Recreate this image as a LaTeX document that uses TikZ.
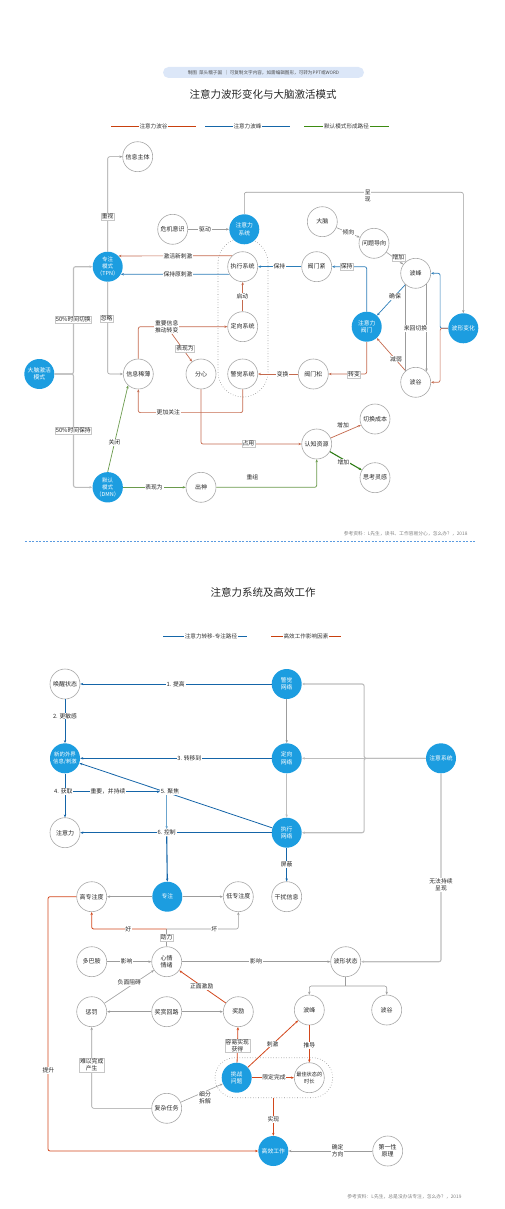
\documentclass[tikz,border=0pt]{standalone}
\usepackage{fontspec}
\setmainfont{Noto Sans CJK SC}
\usetikzlibrary{arrows.meta,calc}
\definecolor{nb}{HTML}{1C9DE0}
\definecolor{cgray}{HTML}{A8A8A8}
\definecolor{lgray}{HTML}{9C9C9C}
\definecolor{lgray2}{HTML}{BDBDBD}
\definecolor{rd}{HTML}{C46A4E}
\definecolor{rdb}{HTML}{D2471C}
\definecolor{bl}{HTML}{2C7DB8}
\definecolor{bld}{HTML}{1565A8}
\definecolor{gn}{HTML}{6A9A4C}
\definecolor{gnd}{HTML}{2F7D17}
\definecolor{pill}{HTML}{DCE7F8}
\definecolor{sepb}{HTML}{5B9BE0}
\definecolor{lgr}{HTML}{C8400E}
\definecolor{lgb}{HTML}{1566A8}
\definecolor{lgg}{HTML}{3D8B12}
\begin{document}
\begin{tikzpicture}[x=1pt,y=-1pt,
  cn/.style={circle,draw=cgray,line width=0.6pt,fill=white,minimum size=30pt,inner sep=0pt,font=\fontsize{6}{7.2}\selectfont,align=center,text=black!85},
  bn/.style={circle,fill=nb,minimum size=30pt,inner sep=0pt,font=\fontsize{5.8}{7.4}\selectfont,align=center,text=white},
  lb/.style={fill=white,inner sep=0.8pt,font=\fontsize{5.8}{6.8}\selectfont,align=center,text=black!85},
  lbb/.style={lb,draw=black!22,line width=0.3pt},
  ar/.style={-{Stealth[length=3pt,width=2.4pt]}},
  rc/.style={rounded corners=2pt},
  gl/.style={draw=lgray,line width=0.6pt},
  gl2/.style={draw=lgray2,line width=1.1pt},
  rdl/.style={draw=rd,line width=0.7pt},
  rdl2/.style={draw=rdb,line width=0.8pt},
  bll/.style={draw=bl,line width=0.7pt},
  bll2/.style={draw=bld,line width=0.8pt},
  gnl/.style={draw=gn,line width=0.7pt},
  gnl2/.style={draw=gnd,line width=1.1pt},
  capsule/.style={draw=black!45,dotted,line width=0.6pt},
  ttl/.style={font=\fontsize{10.5}{12}\selectfont,text=black!85},
  lgt/.style={font=\fontsize{5.6}{6}\selectfont,text=black!80,inner sep=0.5pt},
  reft/.style={font=\fontsize{4.8}{5.5}\selectfont,text=black!50,anchor=east}
]
\useasboundingbox (0,0) rectangle (504,1209);

% ---------- header ----------
\node[fill=pill,rounded corners=5.5pt,minimum width=201pt,minimum height=11pt,inner sep=0pt,font=\fontsize{4.6}{5}\selectfont,text=black!70] (pill) at (263.5,72.5) {制图\ \ 菜头糯子国\ \ ｜\ 可复制文字内容，如需编辑图形，可转为PPT或WORD};
\node[ttl] (t1) at (263,94) {注意力波形变化与大脑激活模式};

\node[lgt] (lg1) at (153.5,126) {注意力波谷};
\coordinate (lg1a) at (111,126); \coordinate (lg1b) at (196,126);
\draw[draw=lgr,line width=0.8pt] (lg1a) -- (lg1.west) (lg1.east) -- (lg1b);
\node[lgt] (lg2) at (247.5,126) {注意力波峰};
\coordinate (lg2a) at (205,126); \coordinate (lg2b) at (290,126);
\draw[draw=lgb,line width=0.8pt] (lg2a) -- (lg2.west) (lg2.east) -- (lg2b);
\node[lgt] (lg3) at (346.5,126) {默认模式形成路径};
\coordinate (lg3a) at (304,126); \coordinate (lg3b) at (389,126);
\draw[draw=lgg,line width=0.8pt] (lg3a) -- (lg3.west) (lg3.east) -- (lg3b);

% ---------- diagram 1 capsule ----------
\draw[capsule,rounded corners=25pt] (218,238) rectangle (268,397);

% ---------- diagram 1 nodes ----------
\node[cn] (info) at (137.7,156.7) {信息主体};
\node[cn] (crisis) at (172.7,229.3) {危机意识};
\node[bn] (attsys) at (244.3,229.3) {注意力\\系统};
\node[bn,font=\fontsize{5.5}{7.2}\selectfont] (tpn) at (107.7,266.7) {专注\\模式\\（TPN）};
\node[cn] (exec) at (242.7,266.7) {执行系统};
\node[cn] (brain) at (322.3,221.7) {大脑};
\node[cn] (problem) at (374,243.3) {问题导向};
\node[cn] (peak) at (415.7,273.3) {波峰};
\node[cn] (vtight) at (316.7,266.7) {阀门紧};
\node[bn] (gate) at (366.7,326.7) {注意力\\阀门};
\node[cn] (trough) at (415.7,382.3) {波谷};
\node[bn] (wave) at (463.3,328.3) {波形变化};
\node[cn] (vloose) at (313.3,374) {阀门松};
\node[cn] (alert) at (242.7,374) {警觉系统};
\node[cn] (orient) at (242.7,326.7) {定向系统};
\node[bn] (activ) at (39.3,374) {大脑激活\\模式};
\node[cn] (scarce) at (138.3,374) {信息稀薄};
\node[cn] (dist) at (201,374) {分心};
\node[cn] (cog) at (316.7,444) {认知资源};
\node[cn] (swcost) at (375,419) {切换成本};
\node[cn] (insp) at (375,477.7) {思考灵感};
\node[bn,font=\fontsize{5.5}{7.2}\selectfont] (dmn) at (107.7,487.3) {默认\\模式\\（DMN）};
\node[cn] (trance) at (201,487.3) {出神};

% ---------- diagram 1 edges ----------
\draw[gl,ar,rc] (tpn.north) |- (info.west);
\node[lbb] at (107.7,216.7) {重视};
\draw[gl,ar] (crisis) -- (attsys);
\node[lb] at (205,229.3) {驱动};
\coordinate (top1) at (300,192.3);
\draw[gl,ar,rc] (attsys.north) |- (top1) -| (wave.north);
\node[lb] at (367.7,196) {呈\\现};

\draw[rdl,ar] (exec.134.5) -- (tpn.45.5);
\node[lb] at (178,256) {激活新刺激};
\draw[bll,ar] (exec.210.4) -- (tpn.-30.4);
\node[lb] at (178,274.3) {保持原刺激};

\draw[bll,ar] (vtight) -- (exec);
\node[lb] at (279.3,266.7) {保持};
\draw[bll,ar,rc] (gate.north) |- (vtight.east);
\node[lbb] at (346.7,266.7) {保持};
\draw[gl,ar] (brain) -- (problem);
\node[lb] at (348.3,232.7) {倾向};
\draw[gl,ar] (problem) -- (peak);
\node[lbb] at (398.3,257.7) {增加};
\draw[bll,ar] (peak) -- (gate);
\node[lb] at (395,296.7) {确保};
\draw[rdl,ar] (trough) -- (gate);
\node[lb] at (396,359) {减弱};
\draw[gl] (peak.-134.4) -- (trough.134.4);
\draw[gl,ar] (peak.-45.6) -- (trough.45.6);
\node[lb] at (415.5,328.3) {来回切换};
\draw[bll,ar,rc] (wave.west) -- ++(-8,0) |- (peak.east);
\draw[rdl,ar,rc] (wave.west) -- ++(-8,0) |- (trough.east);
\draw[rdl,ar,rc] (gate.south) |- (vloose.east);
\node[lbb] at (354,374.3) {转变};
\draw[rdl,ar] (vloose) -- (alert);
\node[lb] at (282.7,374) {变换};
\draw[rdl,ar] (orient) -- (exec);
\node[lb] at (242.3,296.7) {启动};

\draw[gl,ar,rc] (tpn.south) |- (scarce.west);
\node[lbb] at (106.7,318.3) {忽略};
\draw[rdl,ar,rc] (scarce.north) |- (orient.west);
\node[lb] (imp) at (166.7,326.7) {重要信息\\推动转变};
\draw[rdl,ar] (imp) -- (dist);
\node[lbb] at (185,348.3) {表现为};
\draw[rdl,ar,rc] (alert.south) -- ++(0,23.3) -| (scarce.south);
\node[lb] at (168.3,412.3) {更加关注};
\draw[rdl,ar,rc] (dist.south) |- (cog.west);
\node[lbb] at (248.3,443.3) {占用};
\draw[rdl,ar] (cog) -- (swcost);
\node[lb] at (343,425.7) {增加};
\draw[gnl2,ar] (cog) -- (insp);
\node[lb] at (343.3,462.3) {增加};
\draw[gnl,ar] (dmn) -- (trance);
\node[lb] at (154,487.3) {表现为};
\draw[gnl,ar,rc] (trance.east) -| (cog.south);
\node[lb,fill=none] at (252.3,477.3) {重组};
\draw[gnl,ar] (dmn.north) -- (scarce.228);
\node[lb] at (114.3,442.7) {关闭};

\draw[gl2,ar,rc] (activ.east) -- ++(19,0) |- (tpn.west);
\draw[gl2,ar,rc] (activ.east) -- ++(19,0) |- (dmn.west);
\node[lbb] at (73.3,319.3) {50\%时间切换};
\node[lbb] at (73.3,430.7) {50\%时间保持};

\node[reft] (ref1) at (471,534) {参考资料：L先生，读书、工作容易分心，怎么办？，2018};
\coordinate (sepa) at (25,541.3); \coordinate (sepb) at (476,541.3);
\draw[draw=sepb,dashed,line width=0.6pt,dash pattern=on 2pt off 1.5pt] (sepa) -- (sepb);

% ---------- diagram 2 header ----------
\node[ttl] (t2) at (263,592.3) {注意力系统及高效工作};
\node[lgt] (lg4) at (211,636.7) {注意力转移-专注路径};
\coordinate (lg4a) at (163,636.7); \coordinate (lg4b) at (246.7,636.7);
\draw[draw=lgb,line width=0.8pt] (lg4a) -- (lg4.west) (lg4.east) -- (lg4b);
\node[lgt] (lg5) at (306,636.7) {高效工作影响因素};
\coordinate (lg5a) at (271,636.7); \coordinate (lg5b) at (341,636.7);
\draw[draw=lgr,line width=0.8pt] (lg5a) -- (lg5.west) (lg5.east) -- (lg5b);

% ---------- diagram 2 capsule ----------
\draw[capsule,rounded corners=20pt] (215,1057.7) rectangle (332.7,1097.7);

% ---------- diagram 2 nodes ----------
\node[cn] (wake) at (65,684) {唤醒状态};
\node[bn] (alertnet) at (286.7,684) {警觉\\网络};
\node[bn,font=\fontsize{5.4}{7}\selectfont] (newinfo) at (65,758.3) {新的外界\\信息/刺激};
\node[bn] (orientnet) at (286.7,758.3) {定向\\网络};
\node[bn] (execnet) at (286.7,832.7) {执行\\网络};
\node[cn] (attn) at (65,832.7) {注意力};
\node[bn] (attsys2) at (441,758.3) {注意系统};
\node[cn] (interf) at (286.7,896.7) {干扰信息};
\node[cn] (highf) at (91.7,896.7) {高专注度};
\node[bn] (focus) at (167.3,896.7) {专注};
\node[cn] (lowf) at (238.3,896.7) {低专注度};
\node[cn] (mood) at (166.7,961.7) {心情\\情绪};
\node[cn] (dopa) at (91.7,961.7) {多巴胺};
\node[cn] (wstate) at (345.7,961.7) {波形状态};
\node[cn] (punish) at (91.7,1011.7) {惩罚};
\node[cn] (rcirc) at (166.7,1011.7) {奖赏回路};
\node[cn] (reward) at (238.3,1011.7) {奖励};
\node[cn] (peak2) at (309.3,1010) {波峰};
\node[cn] (trough2) at (386.7,1010) {波谷};
\node[bn] (chall) at (236.7,1077.7) {挑战\\问题};
\node[cn,font=\fontsize{5.2}{6.8}\selectfont] (best) at (309.3,1077.7) {最佳状态的\\时长};
\node[cn] (complex) at (166.7,1108.3) {复杂任务};
\node[bn] (eff) at (273.3,1151) {高效工作};
\node[cn] (first) at (387.7,1151) {第一性\\原理};

% ---------- diagram 2 edges ----------
\draw[bll2,ar] (alertnet) -- (wake);
\node[lb] at (175.7,684) {1. 提高};
\draw[bll2,ar] (wake) -- (newinfo);
\node[lb] at (65,716) {2. 更敏感};
\draw[bll2,ar] (orientnet) -- (newinfo);
\node[lb] at (189.3,758.3) {3. 转移到};
\draw[bll2,ar] (execnet) -- (newinfo);
\draw[bll2,ar] (newinfo) -- (attn);
\node[lb] (l4) at (63.3,791.7) {4. 获取};
\node[lb] (l5) at (170,791.7) {5. 聚焦};
\draw[bll2,ar] (l4.east) -- (l5.west) node[lb,pos=0.4] {重要，并持续};
\draw[bll2,ar] (execnet) -- (attn);
\node[lb] (l6) at (166.7,832.7) {6. 控制};
\draw[draw=bl!70,line width=1.1pt,ar] (l5.south -| l6.north) -- (l6.north);
\draw[draw=bld,line width=1.1pt,ar] (l6.south) -- (focus.north);

\draw[gl2,ar] (attsys2.west) -- (orientnet.east);
\draw[gl2,ar,rc] (attsys2.west) -- ++(-61.7,0) |- (alertnet.east);
\draw[gl2,ar,rc] (attsys2.west) -- ++(-61.7,0) |- (execnet.east);
\draw[gl,ar] (alertnet) -- (orientnet);
\draw[gl2,ar] (orientnet) -- (execnet);
\draw[bll2,ar] (execnet) -- (interf);
\node[lb] at (286.7,864.3) {屏蔽};
\draw[gl2,ar,rc] (attsys2.south) |- (wstate.east);
\node[lb] at (441,885) {无法持续\\呈现};

\draw[gl,ar] (focus) -- (highf);
\draw[gl,ar] (focus) -- (lowf);
\coordinate (split) at (166.7,929);
\draw[gl] (mood.north) -- (split);
\draw[rdl2,ar,rc] (split) -| (highf.south);
\draw[gl,ar,rc] (split) -| (lowf.south);
\node[lb] at (128.3,929) {好};
\node[lb] at (214.3,929) {坏};
\node[lbb] at (166.7,937.6) {助力};
\draw[gl,ar] (dopa) -- (mood);
\node[lb] at (126.7,961.7) {影响};
\draw[gl,ar] (mood) -- (wstate);
\node[lb] at (256,961.7) {影响};
\draw[gl,ar] (rcirc) -- (punish);
\draw[gl,ar] (rcirc) -- (reward);
\draw[gl,ar] (punish) -- (mood);
\node[lb] at (129.3,982.7) {负面阻碍};
\draw[rdl2,ar] (reward) -- (mood);
\node[lb] at (201.7,986) {正面激励};
\draw[rdl2,ar,rc] (highf.west) -- ++(-28.4,0) |- (eff.west);
\node[lb] at (48.3,1070.7) {提升};

\coordinate (wsplit) at (345.7,986);
\draw[gl] (wstate.south) -- (wsplit);
\draw[gl,ar,rc] (wsplit) -| (peak2.north);
\draw[gl,ar,rc] (wsplit) -| (trough2.north);

\draw[rdl2,ar] (chall) -- (best);
\node[lb] at (274,1077.7) {限定完成};
\draw[rdl2,ar] (peak2) -- (best);
\node[lb] at (309.3,1045.7) {推导};
\draw[rdl2,ar] (chall) -- (peak2);
\node[lb] at (272.7,1044) {刺激};
\draw[rdl2,ar] (chall) -- (reward);
\node[lbb] at (237.3,1045.7) {容易实现\\获得};
\coordinate (capb) at (273.3,1097.7);
\draw[rdl2,ar] (capb) -- (eff);
\node[lb] at (273.3,1119) {实现};
\draw[gl,ar] (first) -- (eff);
\node[lb] at (337.7,1151) {确定\\方向};
\draw[gl,ar] (complex) -- (chall);
\node[lb] at (205,1097.7) {细分\\拆解};
\draw[gl,ar,rc] (complex.west) -| (punish.south);
\node[lbb] at (91.7,1065) {难以完成\\产生};

\node[reft] (ref2) at (465,1196.7) {参考资料：L先生，总是没办法专注，怎么办？，2019};
\end{tikzpicture}
\end{document}
